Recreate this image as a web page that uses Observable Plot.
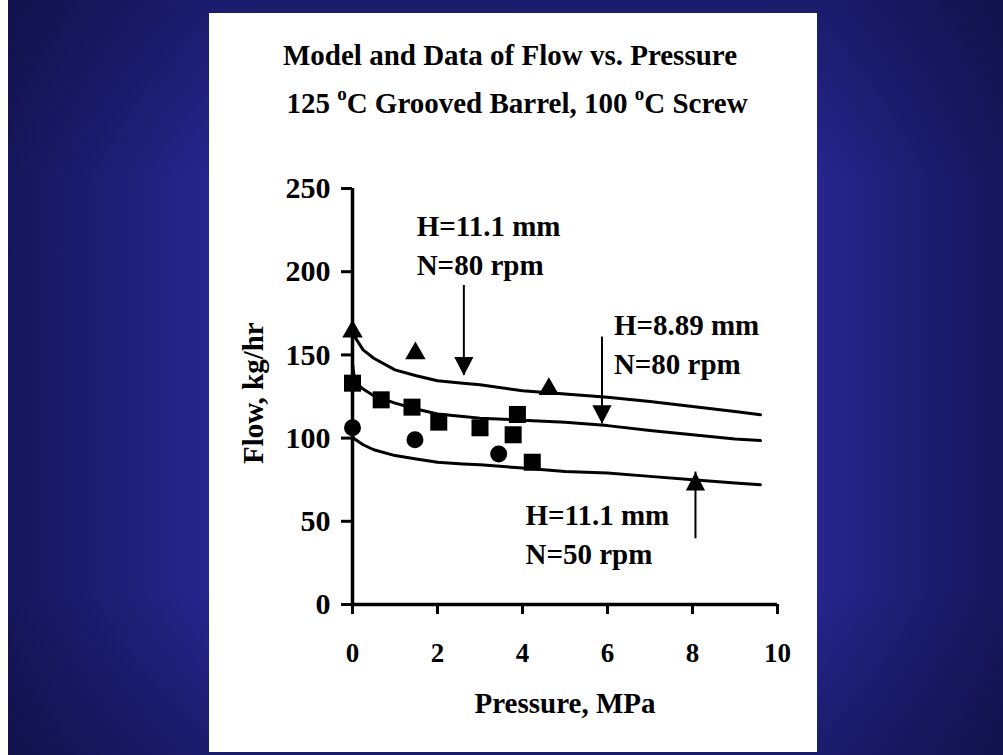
<!DOCTYPE html>
<html><head><meta charset="utf-8">
<script src="https://cdn.jsdelivr.net/npm/d3@7"></script>
<script src="https://cdn.jsdelivr.net/npm/@observablehq/plot@0.6"></script>
<style>
html,body{margin:0;padding:0;}
body{width:1003px;height:755px;position:relative;overflow:hidden;background:#fff;font-family:"Liberation Serif","Times New Roman",serif;}
#bg{position:absolute;left:8px;top:0;width:995px;height:755px;
 background:
  linear-gradient(to bottom, rgba(8,8,40,0.32) 0%, rgba(8,8,40,0) 24%, rgba(8,8,40,0) 78%, rgba(8,8,40,0.32) 100%),
  linear-gradient(to right, #16165c 0%, #25258e 20.2%, #25258e 81.3%, #16165c 100%);}
#panel{position:absolute;left:209px;top:13px;width:608px;height:739px;background:#fff;}
.t{position:absolute;left:0;width:608px;text-align:center;font-weight:bold;font-size:29px;line-height:29px;white-space:nowrap;color:#000;}
.t .o{font-size:19px;position:relative;top:-13px;line-height:0;}
#chart{position:absolute;left:0;top:125px;}
</style>
</head><body>
<div id="bg"></div>
<div id="panel">
  <div class="t" id="t1" style="top:28px;transform:translateX(-3px)"></div>
  <div class="t" id="t2" style="top:76px;transform:translateX(4px)"></div>
  <div id="chart"></div>
</div>
<script>
// ---- Data ----
const titleLine1 = "Model and Data of Flow vs. Pressure";
const titleLine2Parts = ["125 ", "o", "C Grooved Barrel, 100 ", "o", "C Screw"];
const xLabel = "Pressure, MPa";
const yLabel = "Flow, kg/hr";
const xTicks = [0, 2, 4, 6, 8, 10];
const yTicks = [0, 50, 100, 150, 200, 250];

// model curves (pressure, MPa)
const modelP    = [0, 0.05, 0.25, 0.5, 1, 1.5, 2, 2.6, 3, 4, 5, 6, 7, 8, 9, 9.6];
const modelH111N80 = [165, 161, 153, 148, 141, 137.5, 134.5, 133, 132, 128.5, 126.5, 124.5, 122, 119, 116, 114];
const modelH889N80 = [145, 134, 129.5, 125.5, 121, 117.5, 114.5, 113, 112, 110.8, 109.5, 107.5, 104.5, 102, 99.5, 98.5];
const modelH111N50 = [101, 99.5, 96, 93, 89.5, 87.5, 85.5, 84.5, 84, 82, 80, 79, 77, 75, 73, 72];

// measured data
const triP = [0, 1.48, 4.62];
const triF = [164, 151, 129.5];
const sqP  = [0, 0.675, 1.4, 2.03, 3.0, 3.88, 3.78, 4.23];
const sqF  = [133, 123, 118.6, 109.6, 106.2, 114.2, 102, 85.5];
const ciP  = [0, 1.47, 3.44];
const ciF  = [106.2, 99, 90.5];

// arrows pointing to the curves
const arrowP    = [2.62, 5.87, 8.07];
const arrowFrom = [191.7, 160.7, 39.5];
const arrowTo   = [137.6, 108.6, 79.6];

// annotations
const noteText = ["H=11.1 mm", "N=80 rpm", "H=8.89 mm", "N=80 rpm", "H=11.1 mm", "N=50 rpm"];
const noteP    = [1.51, 1.51, 6.15, 6.15, 4.07, 4.07];
const noteF    = [221.2, 198.3, 161.7, 138.8, 47.5, 24.6];

// ---- Title ----
document.getElementById("t1").textContent = titleLine1;
const t2 = document.getElementById("t2");
titleLine2Parts.forEach((p) => {
  if (p === "o") { const s = document.createElement("span"); s.className = "o"; s.textContent = p; t2.appendChild(s); }
  else t2.appendChild(document.createTextNode(p));
});

// arrowhead symbols with the tip at the anchor point
const headDown = {draw(ctx, size) { const r = Math.sqrt(size / Math.PI); const w = 2.6 * r, h = 2.5 * r;
  ctx.moveTo(0, 0); ctx.lineTo(-w / 2, -h); ctx.lineTo(w / 2, -h); ctx.closePath(); }};
const headUp = {draw(ctx, size) { const r = Math.sqrt(size / Math.PI); const w = 2.6 * r, h = 2.5 * r;
  ctx.moveTo(0, 0); ctx.lineTo(-w / 2, h); ctx.lineTo(w / 2, h); ctx.closePath(); }};

const idx = a => a.map((_, i) => i);
const downIdx = arrowP.map((_, i) => i).filter(i => arrowTo[i] < arrowFrom[i]);
const upIdx = arrowP.map((_, i) => i).filter(i => arrowTo[i] > arrowFrom[i]);

const font = {fontFamily: "Liberation Serif", fontWeight: "bold"};

const chart = Plot.plot({
  width: 608,
  height: 614,
  marginLeft: 143,
  marginRight: 40,
  marginTop: 50,
  marginBottom: 148,
  style: {background: "transparent", color: "black", fontFamily: "Liberation Serif", overflow: "visible"},
  x: {domain: [0, 10], axis: null},
  y: {domain: [0, 250], axis: null},
  marks: [
    // axes
    Plot.axisX(xTicks, {anchor: "bottom", tickSize: 10, tickPadding: 28, fontSize: 27, ...font, strokeWidth: 3, label: null, tickFormat: d => String(d)}),
    Plot.axisY(yTicks, {anchor: "left", tickSize: 11, tickPadding: 11, fontSize: 30, ...font, strokeWidth: 3, label: null, tickFormat: d => String(d)}),
    Plot.ruleY([0], {x1: 0, x2: 10, strokeWidth: 3.5}),
    Plot.ruleX([0], {y1: 0, y2: 250, strokeWidth: 3.5}),
    // model curves
    Plot.line(idx(modelP), {x: modelP, y: modelH111N80, stroke: "black", strokeWidth: 3}),
    Plot.line(idx(modelP), {x: modelP, y: modelH889N80, stroke: "black", strokeWidth: 3}),
    Plot.line(idx(modelP), {x: modelP, y: modelH111N50, stroke: "black", strokeWidth: 3}),
    // data
    Plot.dot(idx(triP), {x: triP, y: triF, symbol: "triangle", r: 7.6, fill: "black", stroke: null}),
    Plot.dot(idx(sqP), {x: sqP, y: sqF, symbol: "square", r: 9.6, fill: "black", stroke: null}),
    Plot.dot(idx(ciP), {x: ciP, y: ciF, symbol: "circle", r: 8.5, fill: "black", stroke: null}),
    // arrows
    Plot.ruleX(idx(arrowP), {x: arrowP, y1: arrowFrom, y2: arrowTo, stroke: "black", strokeWidth: 2}),
    Plot.dot(downIdx, {x: i => arrowP[i], y: i => arrowTo[i], symbol: headDown, r: 7.4, fill: "black", stroke: null}),
    Plot.dot(upIdx, {x: i => arrowP[i], y: i => arrowTo[i], symbol: headUp, r: 7.4, fill: "black", stroke: null}),
    // annotations
    Plot.text(idx(noteText), {x: noteP, y: noteF, text: noteText, textAnchor: "start", lineAnchor: "bottom", fontSize: 29, ...font, fill: "black"}),
    // axis titles
    Plot.text([xLabel], {x: () => 5, frameAnchor: "bottom", dy: 99, text: d => d, fontSize: 29, ...font, textAnchor: "middle", lineAnchor: "middle", fill: "black"}),
    Plot.text([yLabel], {y: () => 127, frameAnchor: "left", dx: -99, rotate: -90, text: d => d, fontSize: 29, ...font, textAnchor: "middle", lineAnchor: "middle", fill: "black"})
  ]
});
document.getElementById("chart").appendChild(chart);
</script>
</body></html>
